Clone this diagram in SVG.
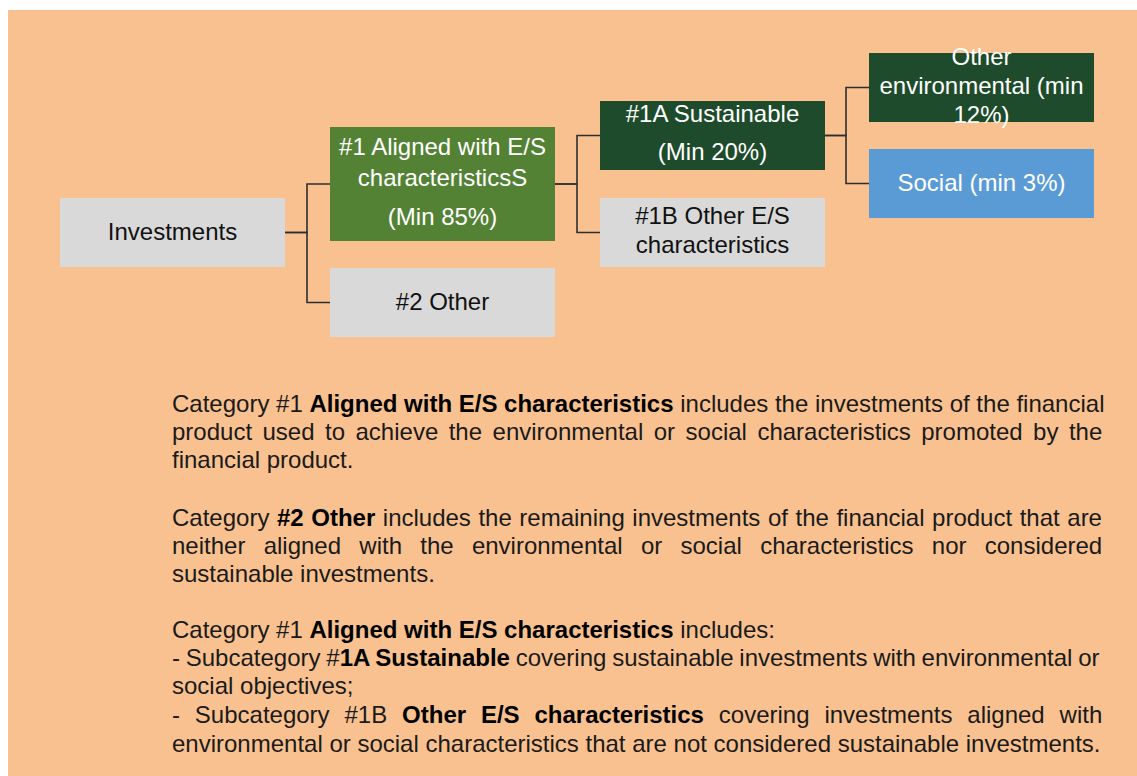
<svg xmlns="http://www.w3.org/2000/svg" width="1137" height="776" viewBox="0 0 1137 776">
<style>
.box{stroke:none}
.gray{fill:#D9D9D9}
.green{fill:#548235}
.dark{fill:#1E4B2B}
.blue{fill:#5B9BD5}
.bt{font-family:"Liberation Sans",Arial,sans-serif;font-size:24px;text-anchor:middle}
.w{fill:#FFFFFF}
.k{fill:#111111}
.conn{fill:none;stroke:#2E2E2E;stroke-width:1.6}
.body{font-family:"Liberation Sans",Arial,sans-serif;font-size:24px;fill:#1A1A1A}
.b{font-weight:bold;fill:#000}
</style>
<rect x="8" y="10" width="1129" height="766" fill="#F9C190"/>
<g id="connectors">
<path class="conn" d="M285,232.5 H307 V184 H330"/>
<path class="conn" d="M285,232.5 H307 V302.5 H330"/>
<path class="conn" d="M555,184 H577 V135.5 H600"/>
<path class="conn" d="M555,184 H577 V232.5 H600"/>
<path class="conn" d="M825,135.5 H846 V87.5 H869"/>
<path class="conn" d="M825,135.5 H846 V183.5 H869"/>
</g>
<g id="investments">
<rect class="box gray" x="60" y="198" width="225" height="69"/>
<text class="bt k" x="172.5" y="240">Investments</text>
</g>
<g id="aligned">
<rect class="box green" x="330" y="127" width="225" height="114"/>
<text class="bt w" x="442.5" y="155">#1 Aligned with E/S</text>
<text class="bt w" x="442.5" y="186">characteristicsS</text>
<text class="bt w" x="442.5" y="225">(Min 85%)</text>
</g>
<g id="other2">
<rect class="box gray" x="330" y="268" width="225" height="69"/>
<text class="bt k" x="442.5" y="310">#2 Other</text>
</g>
<g id="sustainable">
<rect class="box dark" x="600" y="101" width="225" height="69"/>
<text class="bt w" x="712.5" y="122">#1A Sustainable</text>
<text class="bt w" x="712.5" y="160">(Min 20%)</text>
</g>
<g id="other1b">
<rect class="box gray" x="600" y="198" width="225" height="69"/>
<text class="bt k" x="712.5" y="224">#1B Other E/S</text>
<text class="bt k" x="712.5" y="253">characteristics</text>
</g>
<g id="otherenv">
<rect class="box dark" x="869" y="53" width="225" height="69"/>
<text class="bt w" x="981.5" y="65">Other</text>
<text class="bt w" x="981.5" y="94">environmental (min</text>
<text class="bt w" x="981.5" y="123">12%)</text>
</g>
<g id="social">
<rect class="box blue" x="869" y="149" width="225" height="69"/>
<text class="bt w" x="981.5" y="191">Social (min 3%)</text>
</g>
<g id="description">
<text class="body" x="172" y="412">Category #1 <tspan class="b">Aligned with E/S characteristics</tspan> includes the investments of the financial</text>
<text class="body" x="172" y="440" word-spacing="3.8">product used to achieve the environmental or social characteristics promoted by the</text>
<text class="body" x="172" y="468">financial product.</text>
<text class="body" x="172" y="526" word-spacing="0.9">Category <tspan class="b">#2 Other</tspan> includes the remaining investments of the financial product that are</text>
<text class="body" x="172" y="554" word-spacing="11.6">neither aligned with the environmental or social characteristics nor considered</text>
<text class="body" x="172" y="582">sustainable investments.</text>
<text class="body" x="172" y="638">Category #1 <tspan class="b">Aligned with E/S characteristics</tspan> includes:</text>
<text class="body" x="172" y="666" word-spacing="-0.9">- Subcategory #<tspan class="b">1A Sustainable</tspan> covering sustainable investments with environmental or</text>
<text class="body" x="172" y="694">social objectives;</text>
<text class="body" x="172" y="723" word-spacing="8.2">- Subcategory #1B <tspan class="b">Other E/S characteristics</tspan> covering investments aligned with</text>
<text class="body" x="172" y="752">environmental or social characteristics that are not considered sustainable investments.</text>
</g>
</svg>
